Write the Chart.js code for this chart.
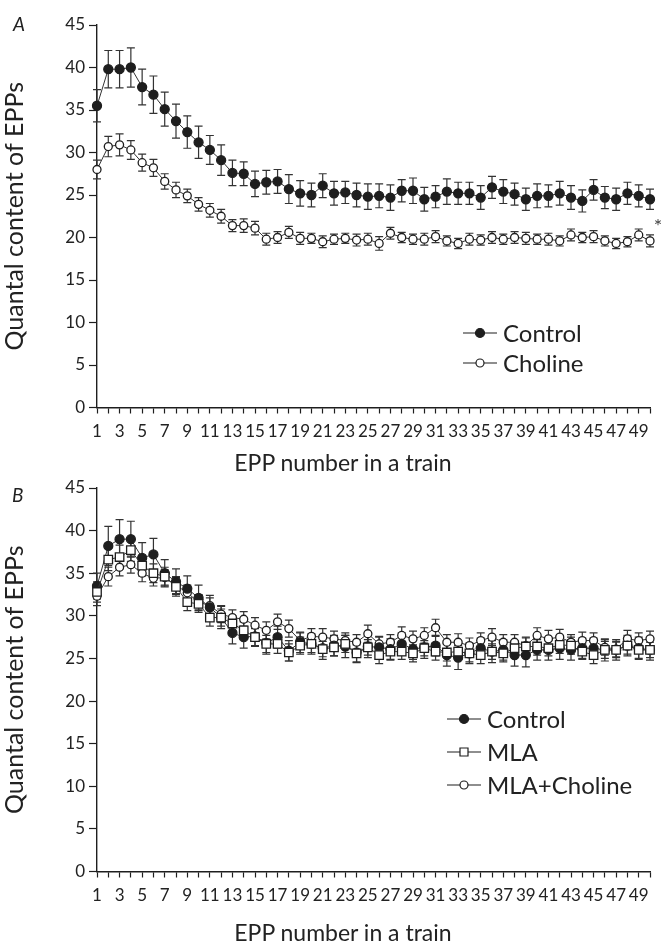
<!DOCTYPE html>
<html>
<head>
<meta charset="utf-8">
<script src="https://cdn.jsdelivr.net/npm/chart.js@4.4.1/dist/chart.umd.min.js"></script>
<style>
body{margin:0;background:#fff;}
#wrap{position:relative;width:661px;height:944px;font-family:Lato,sans-serif;color:#222;}
canvas{position:absolute;left:0;}
#cA{top:0;}
#cB{top:470px;}
.lab{position:absolute;font-style:italic;font-size:19px;line-height:19px;}
.xt{position:absolute;width:320px;left:183px;text-align:center;font-size:23px;line-height:28px;}
</style>
</head>
<body>
<div id="wrap">
<canvas id="cA" width="661" height="470"></canvas>
<canvas id="cB" width="661" height="474"></canvas>
<div class="lab" style="left:13px;top:14px;">A</div>
<div class="lab" style="left:12px;top:485px;">B</div>
<div class="xt" style="top:448px;">EPP number in a train</div>
<div class="xt" style="top:918px;">EPP number in a train</div>
</div>
<script>

// EPP number 1..50 in the train
let eppNumbers=Array.from({length:50},(_,i)=>String(i+1));

// panel A
let controlA=[35.5,39.8,39.8,40.0,37.7,36.8,35.1,33.7,32.4,31.2,
30.3,29.1,27.6,27.5,26.3,26.5,26.6,25.7,25.2,25.0,
26.1,25.2,25.3,25.0,24.8,24.9,24.7,25.5,25.5,24.5,
24.8,25.4,25.2,25.2,24.7,25.9,25.4,25.1,24.5,24.9,
24.9,25.2,24.7,24.3,25.6,24.7,24.5,25.2,24.9,24.5];
let controlAErr=[1.9,2.2,2.2,2.3,2.1,2.2,2.0,2.0,1.9,1.9,
1.7,1.8,1.5,1.4,1.5,1.4,1.4,1.7,1.5,1.4,
1.4,1.4,1.3,1.4,1.5,1.4,1.5,1.3,1.5,1.4,
1.3,1.5,1.3,1.3,1.4,1.3,1.4,1.3,1.3,1.4,
1.3,1.4,1.4,1.3,1.2,1.3,1.3,1.3,1.3,1.2];
let cholineA=[28.0,30.7,30.9,30.3,28.8,28.2,26.6,25.6,24.9,23.9,
23.2,22.5,21.4,21.4,21.1,19.8,20.0,20.6,19.9,19.9,
19.5,19.8,19.9,19.7,19.8,19.3,20.5,20.0,19.8,19.8,
20.1,19.6,19.3,19.8,19.7,20.0,19.8,20.0,19.9,19.8,
19.8,19.6,20.3,20.0,20.1,19.6,19.3,19.5,20.3,19.6];
let cholineAErr=[1.1,1.2,1.3,1.1,1.0,1.0,0.9,0.9,0.8,0.8,
0.8,0.8,0.7,0.8,0.8,0.7,0.7,0.7,0.7,0.6,
0.7,0.6,0.6,0.7,0.7,0.8,0.7,0.6,0.6,0.7,
0.7,0.6,0.6,0.7,0.6,0.7,0.6,0.7,0.7,0.6,
0.7,0.6,0.7,0.6,0.7,0.6,0.6,0.6,0.7,0.7];

// panel B
let controlB=[33.5,38.2,39.0,39.0,36.8,37.2,35.0,34.0,33.2,32.1,
31.0,29.8,28.0,27.5,27.6,26.8,27.5,25.9,26.9,26.7,
26.2,26.5,26.4,25.7,26.4,26.3,26.1,26.7,26.1,26.3,
26.5,25.4,25.1,25.6,26.2,25.8,26.0,25.4,25.4,26.0,
26.0,26.2,26.0,26.2,26.2,26.0,26.0,26.5,26.2,26.0];
let controlBErr=[1.5,2.3,2.3,2.1,1.8,1.9,1.6,1.5,1.5,1.5,
1.4,1.3,1.3,1.3,1.2,1.3,1.3,1.2,1.2,1.2,
1.3,1.2,1.3,1.2,1.3,1.2,1.2,1.3,1.2,1.3,
1.2,1.3,1.4,1.2,1.2,1.3,1.2,1.3,1.4,1.2,
1.2,1.3,1.2,1.2,1.2,1.3,1.2,1.2,1.3,1.2];
let mlaB=[32.8,36.6,36.9,37.7,35.9,35.0,34.6,33.4,31.6,31.4,
29.8,29.8,29.1,28.3,27.5,26.7,26.7,25.7,26.5,26.7,
26.1,26.3,26.7,25.6,26.3,25.4,25.8,25.8,25.6,26.2,
25.8,25.7,25.8,25.6,25.4,25.8,25.6,26.2,26.4,26.4,
26.2,26.6,26.5,25.8,25.4,26.0,26.0,26.5,26.0,26.0];
let mlaBErr=[1.2,1.3,1.4,1.3,1.2,1.1,1.1,1.1,1.0,1.0,
1.0,1.0,0.9,1.0,1.0,1.0,1.1,1.0,1.0,1.0,
0.9,1.0,1.0,1.0,0.9,1.0,1.0,0.9,1.0,0.9,
1.0,1.0,0.9,1.0,1.0,0.9,1.0,0.9,1.0,1.0,
0.9,1.0,1.0,0.9,1.0,1.0,0.9,1.0,1.0,0.9];
let mlaChoB=[32.3,34.6,35.7,36.0,35.0,34.4,34.5,33.6,32.7,31.6,
31.2,30.2,29.8,29.6,28.9,28.3,29.3,28.5,27.1,27.6,
27.5,27.3,27.1,26.9,27.9,26.7,26.9,27.7,27.3,27.7,
28.6,26.9,26.9,26.5,27.1,27.5,26.9,26.9,26.5,27.7,
27.3,27.5,26.9,27.1,27.1,26.3,26.1,27.3,27.1,27.3];
let mlaChoBErr=[1.1,1.1,1.0,1.0,1.0,0.9,0.9,1.0,0.9,0.9,
0.9,1.0,0.9,0.9,0.9,1.0,0.9,1.0,0.9,0.9,
1.0,0.9,0.9,0.9,1.0,0.9,0.9,1.0,0.9,0.9,
1.0,0.9,1.0,0.9,0.9,1.0,0.9,0.9,1.0,0.9,
1.0,0.9,0.9,1.0,0.9,0.9,0.9,1.0,0.9,0.9];

let yTicks=[0,5,10,15,20,25,30,35,40,45];

const ink="#1e1e1e";
const tickFont={family:"'Liberation Sans Narrow', Lato, sans-serif",size:17};

// error bars drawn under the markers
const errorBars={
id:"errorBars",
beforeDatasetsDraw(chart){
let ctx=chart.ctx;
let ys=chart.scales.y;
ctx.save();
ctx.strokeStyle="#333";
ctx.lineWidth=1.2;
chart.data.datasets.forEach((ds,i)=>{
let meta=chart.getDatasetMeta(i);
meta.data.forEach((pt,j)=>{
let v=ds.data[j],e=ds.err[j];
let top=ys.getPixelForValue(v+e),bot=ys.getPixelForValue(v-e);
ctx.beginPath();
ctx.moveTo(pt.x,top);ctx.lineTo(pt.x,bot);
ctx.moveTo(pt.x-4,top);ctx.lineTo(pt.x+4,top);
ctx.moveTo(pt.x-4,bot);ctx.lineTo(pt.x+4,bot);
ctx.stroke();
});
});
ctx.restore();
}
};

function drawMarker(ctx,kind,x,y){
ctx.beginPath();
if(kind==="rect"){
ctx.rect(x-4,y-4,8,8);
}else{
ctx.arc(x,y,kind==="dot"?4.5:4,0,Math.PI*2);
}
ctx.fillStyle=kind==="dot"?ink:"#fff";
ctx.fill();
ctx.lineWidth=1.2;
ctx.strokeStyle=ink;
ctx.stroke();
}

// line + marker legend like the original figure
const sideLegend={
id:"sideLegend",
afterDraw(chart,args,opts){
if(!opts.items) return;
let ctx=chart.ctx;
ctx.save();
ctx.font="24px Lato, sans-serif";
ctx.textBaseline="middle";
opts.items.forEach((it,k)=>{
let y=opts.y+k*opts.gap;
ctx.strokeStyle=ink;
ctx.lineWidth=1.2;
ctx.beginPath();
ctx.moveTo(opts.x,y);ctx.lineTo(opts.x+34,y);
ctx.stroke();
drawMarker(ctx,it.kind,opts.x+17,y);
ctx.fillStyle="#222";
ctx.fillText(it.label,opts.x+40,y+1);
});
ctx.restore();
}
};

const starMark={
id:"starMark",
afterDatasetsDraw(chart,args,opts){
if(!opts.text) return;
let ctx=chart.ctx;
let px=chart.scales.x.getPixelForValue(opts.at)+8;
let py=chart.scales.y.getPixelForValue(opts.value);
ctx.save();
ctx.font="20px Lato, sans-serif";
ctx.fillStyle="#444";
ctx.textAlign="center";
ctx.textBaseline="middle";
ctx.fillText(opts.text,px,py+3);
ctx.restore();
}
};

function series(label,data,err,kind,order){
return {
label,data,err,order,
borderColor:"#333",
borderWidth:1,
pointStyle:kind==="rect"?"rect":"circle",
pointRadius:kind==="rect"?6:(kind==="dot"?4.5:4),
pointBackgroundColor:kind==="dot"?ink:"#fff",
pointBorderColor:ink,
pointBorderWidth:1.3,
tension:0
};
}

function makeOptions(topPad,legendCfg,star){
return {
responsive:false,
animation:false,
layout:{padding:{top:topPad,right:11,left:0,bottom:0}},
plugins:{
legend:{display:false},
tooltip:{enabled:false},
sideLegend:legendCfg,
starMark:star||{}
},
scales:{
x:{
type:"category",
offset:false,
afterFit(s){s.height=topPad===25?62.5:72.5;},
grid:{drawOnChartArea:false,offset:false,color:ink,tickLength:6,tickWidth:1.2},
border:{color:ink,width:1.4},
ticks:{
autoSkip:false,maxRotation:0,padding:8,color:"#222",font:tickFont,
callback:(v,i)=>i%2===0?eppNumbers[i]:""
}
},
y:{
min:0,max:45,
afterFit(s){s.width=97;},
afterBuildTicks(s){s.ticks=yTicks.map(v=>({value:v}));},
grid:{drawOnChartArea:false,color:ink,tickLength:8,tickWidth:1.2},
border:{color:ink,width:1.4},
ticks:{padding:4,color:"#222",font:{family:"Lato, sans-serif",size:17}},
title:{display:true,text:"Quantal content of EPPs",color:"#222",padding:{top:0,bottom:0},
font:{family:"Lato, sans-serif",size:25}}
}
}
};
}

new Chart(document.getElementById("cA"),{
type:"line",
data:{
labels:eppNumbers,
datasets:[
series("Control",controlA,controlAErr,"dot",0),
series("Choline",cholineA,cholineAErr,"open",1)
]
},
options:makeOptions(25,{x:463,y:333,gap:30,items:[{label:"Control",kind:"dot"},{label:"Choline",kind:"open"}]},
{text:"*",at:eppNumbers[49],value:21.7}),
plugins:[errorBars,sideLegend,starMark]
});

new Chart(document.getElementById("cB"),{
type:"line",
data:{
labels:eppNumbers,
datasets:[
series("Control",controlB,controlBErr,"dot",1),
series("MLA",mlaB,mlaBErr,"rect",0),
series("MLA+Choline",mlaChoB,mlaChoBErr,"open",2)
]
},
options:makeOptions(18,{x:447,y:249,gap:33,items:[{label:"Control",kind:"dot"},{label:"MLA",kind:"rect"},{label:"MLA+Choline",kind:"open"}]}),
plugins:[errorBars,sideLegend,starMark]
});

</script>
</body>
</html>
